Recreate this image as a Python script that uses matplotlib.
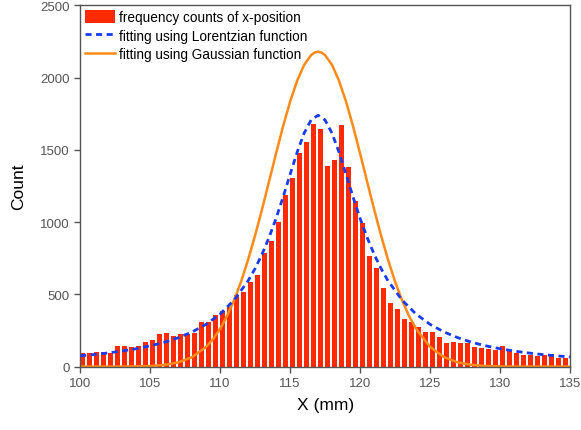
import matplotlib
matplotlib.use('Agg')
import matplotlib.pyplot as plt
import numpy as np

plt.rcParams['font.family'] = ['Liberation Sans', 'DejaVu Sans']

# histogram: left edges of 0.5 mm bins and counts
bin_left = np.arange(100.0, 135.0, 0.5)
counts = [92, 95, 99, 104, 92, 143, 145, 138, 145, 173,
          187, 228, 231, 215, 224, 228, 233, 312, 312, 358,
          385, 410, 495, 519, 589, 637, 787, 872, 999, 1191,
          1304, 1477, 1558, 1680, 1646, 1387, 1433, 1673, 1380, 1149,
          995, 769, 681, 542, 441, 399, 330, 312, 273, 238,
          238, 203, 162, 173, 162, 162, 135, 127, 122, 115,
          141, 115, 92, 81, 81, 76, 81, 85, 60, 58]

# Lorentzian fit curve
lor_x = [100, 101, 102, 103, 104, 105, 106, 107, 108, 109, 110, 111, 112, 112.5,
         113, 113.5, 114, 114.5, 115, 115.5, 116, 116.5, 117, 117.5, 118, 118.5,
         119, 119.5, 120, 120.5, 121, 121.5, 122, 123, 124, 125, 126, 127, 128,
         129, 130, 131, 132, 133, 134, 135]
lor_y = [75, 84, 95, 108, 124, 144, 168, 200, 240, 293, 364, 461, 594, 679,
         779, 895, 1027, 1174, 1330, 1483, 1615, 1707, 1740, 1707, 1615, 1483,
         1330, 1174, 1027, 895, 779, 679, 594, 461, 364, 293, 240, 200, 168,
         144, 124, 108, 95, 84, 75, 67]

# Gaussian fit curve
gau_x = [100, 103, 104, 105, 106, 107, 108, 109, 109.5, 110, 110.5, 111, 111.5,
         112, 112.5, 113, 113.5, 114, 114.5, 115, 115.5, 116, 116.5, 116.75, 117,
         117.25, 117.5, 118, 118.5, 119, 119.5, 120, 120.5, 121, 121.5, 122, 122.5,
         123, 123.5, 124, 125, 126, 127, 128, 129, 130, 131, 135]
gau_y = [0, 0, 2, 4, 12, 29, 66, 137, 191, 262, 351, 460, 589,
         740, 908, 1091, 1283, 1477, 1664, 1834, 1978, 2088, 2156, 2174, 2180,
         2174, 2156, 2088, 1978, 1834, 1664, 1477, 1283, 1091, 908, 740, 589,
         460, 351, 262, 137, 66, 29, 12, 4, 2, 0, 0]

fig = plt.figure(figsize=(5.81, 4.31), dpi=100)
ax = fig.add_axes([0.138, 0.147, 0.843, 0.838])

bars = ax.bar(bin_left, counts, width=0.37, align='edge', color='#ff2a00',
              label='frequency counts of x-position', zorder=1)
lor, = ax.plot(lor_x, lor_y, color='#1a3cf0', lw=2.0, ls=(0, (2.2, 1.6)),
               label='fitting using Lorentzian function', zorder=3)
gau, = ax.plot(gau_x, gau_y, color='#ff8a1a', lw=1.8,
               label='fitting using Gaussian function', zorder=2)

ax.set_xlim(100, 135)
ax.set_ylim(0, 2500)
ax.set_xticks(range(100, 136, 5))
ax.set_yticks(range(0, 2501, 500))
ax.tick_params(direction='out', length=4, width=1, colors='#555555',
               labelsize=9.5, top=False, right=False)
for s in ax.spines.values():
    s.set_color('#555555')
    s.set_linewidth(1.0)

ax.set_xlabel('X (mm)', fontsize=12.5, labelpad=6)
ax.set_ylabel('Count', fontsize=12.5, labelpad=10)

ax.legend(handles=[bars, lor, gau], loc='upper left', frameon=False,
          fontsize=9.8, handlelength=2.2, handleheight=1.0,
          handletextpad=0.3, borderaxespad=0.1, labelspacing=0.32,
          borderpad=0.25)

fig.savefig('out.png', dpi=100)
